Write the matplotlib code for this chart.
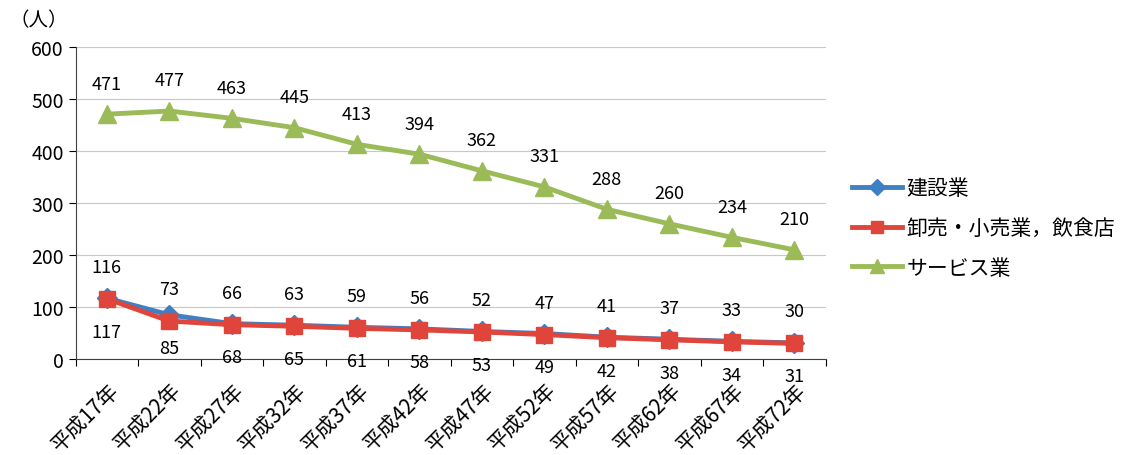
import matplotlib
matplotlib.use('Agg')
import matplotlib.pyplot as plt
from matplotlib.transforms import ScaledTranslation

plt.rcParams['font.family'] = ['Noto Sans CJK JP', 'DejaVu Sans']

# データ
years = ['平成17年', '平成22年', '平成27年', '平成32年', '平成37年', '平成42年',
         '平成47年', '平成52年', '平成57年', '平成62年', '平成67年', '平成72年']
kensetsu = [117, 85, 68, 65, 61, 58, 53, 49, 42, 38, 34, 31]
oroshi = [116, 73, 66, 63, 59, 56, 52, 47, 41, 37, 33, 30]
service = [471, 477, 463, 445, 413, 394, 362, 331, 288, 260, 234, 210]

blue = '#3F7FC4'
red = '#E0453C'
green = '#9BBB59'

fig = plt.figure(figsize=(11.28, 4.56), dpi=100)
ax = fig.add_axes([0.067, 0.2105, 0.665, 0.684])

x = list(range(len(years)))
ax.plot(x, kensetsu, color=blue, lw=3.5, marker='D', ms=10, label='建設業')
ax.plot(x, oroshi, color=red, lw=3.5, marker='s', ms=11, label='卸売・小売業，飲食店')
ax.plot(x, service, color=green, lw=3.5, marker='^', ms=13, label='サービス業')

# データラベル
for i in x:
    ax.annotate(str(service[i]), (i, service[i]), xytext=(0, 22), textcoords='offset points',
                ha='center', va='center', fontsize=13)
    ax.annotate(str(oroshi[i]), (i, oroshi[i]), xytext=(0, 23), textcoords='offset points',
                ha='center', va='center', fontsize=13)
    ax.annotate(str(kensetsu[i]), (i, kensetsu[i]), xytext=(0, -24), textcoords='offset points',
                ha='center', va='center', fontsize=13)

ax.set_xlim(-0.5, len(years) - 0.5)
ax.set_ylim(0, 600)
ax.set_yticks(range(0, 601, 100))
ax.tick_params(axis='y', labelsize=14, length=5)
ax.set_xticks([i - 0.5 for i in range(len(years) + 1)])
ax.set_xticklabels([])
ax.set_xticks(x, minor=True)
ax.set_xticklabels(years, minor=True, rotation=45, ha='right', rotation_mode='anchor', fontsize=15)
ax.tick_params(axis='x', which='major', length=5, direction='out')
ax.tick_params(axis='x', which='minor', length=0, pad=14)
for lab in ax.get_xticklabels(minor=True):
    lab.set_transform(lab.get_transform() + ScaledTranslation(0.01, 0, fig.dpi_scale_trans))

ax.grid(axis='y', color='#C8C8C8', lw=0.8)
ax.set_axisbelow(True)
ax.spines['right'].set_visible(False)
ax.spines['top'].set_visible(False)
ax.spines['left'].set_color('#404040')
ax.spines['bottom'].set_color('#404040')

fig.text(0.008, 0.955, '（人）', fontsize=14, va='center')

ax.legend(loc='center left', bbox_to_anchor=(1.01, 0.42), frameon=False, fontsize=15,
          handlelength=2.4, labelspacing=0.85, handletextpad=0.2, markerscale=0.8)

fig.savefig('out.png', dpi=100)
